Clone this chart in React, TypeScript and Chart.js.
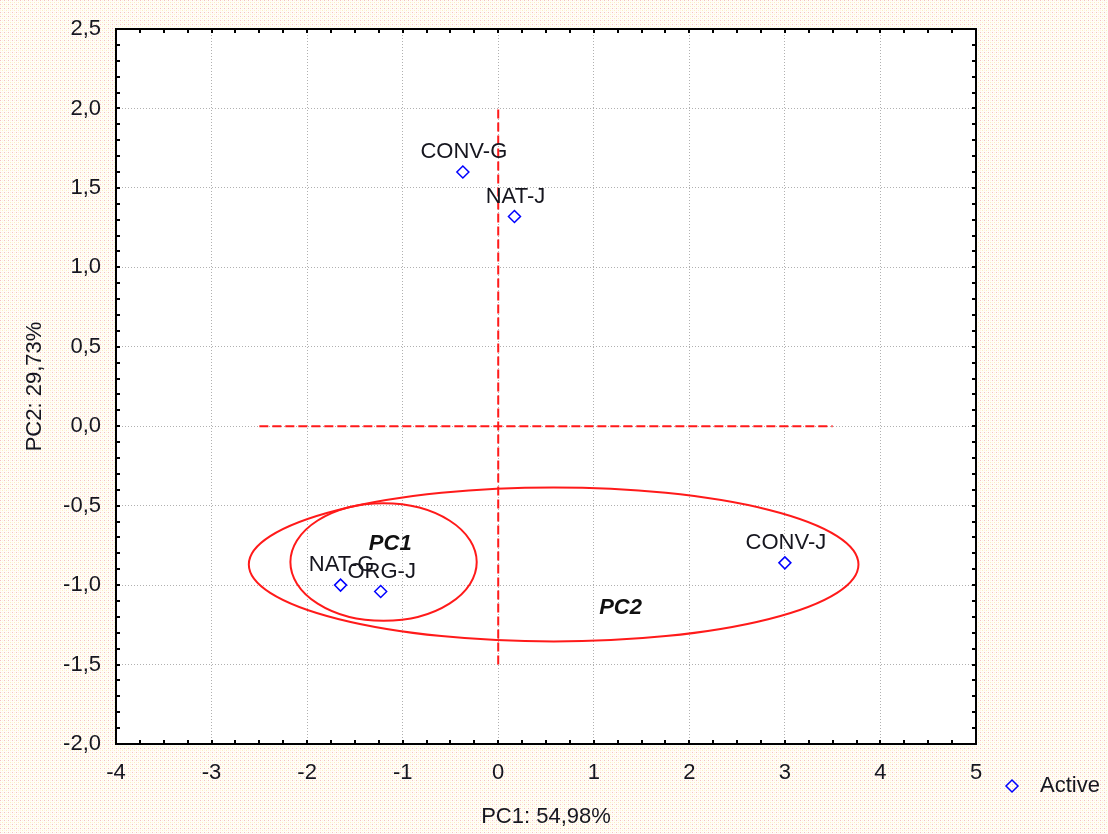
import React, { useEffect, useRef } from 'react';
import { Chart, registerables } from 'chart.js';

Chart.register(...registerables);

// ---- data ----
const pointLabels = ['CONV-G', 'NAT-J', 'NAT-G', 'ORG-J', 'CONV-J'];
const pc1Values = [-0.37, 0.17, -1.65, -1.23, 3.0];
const pc2Values = [1.6, 1.32, -1.0, -1.04, -0.86];

const xTickValues = [-4, -3, -2, -1, 0, 1, 2, 3, 4, 5];
const yTickValues = [-2.0, -1.5, -1.0, -0.5, 0.0, 0.5, 1.0, 1.5, 2.0, 2.5];

const crossHX = [-2.5, 3.5];
const crossHY = [0, 0];
const crossVX = [0, 0];
const crossVY = [-1.5, 2.0];

const ellipseNames = ['PC1', 'PC2'];
const ellipseCx = [-1.2, 0.58];
const ellipseCy = [-0.855, -0.87];
const ellipseRx = [0.975, 3.19];
const ellipseRy = [0.37, 0.485];
const ellipseLabelX = [-1.13, 1.28];
const ellipseLabelY = [-0.74, -1.145];

const xTitle = 'PC1: 54,98%';
const yTitle = 'PC2: 29,73%';
const seriesName = 'Active';

const FONT = '"Liberation Sans", Arial, sans-serif';
const FS = 22;
const RED = '#ff1a1a';
const BLUE = '#0000ff';
const TEXT = '#16161f';

const fmtY = (v: number) => v.toFixed(1).replace('.', ',');

function makePattern(ctx: CanvasRenderingContext2D) {
  const c = document.createElement('canvas');
  c.width = 4;
  c.height = 4;
  const g = c.getContext('2d')!;
  g.fillStyle = '#fffdf8';
  g.fillRect(0, 0, 4, 4);
  g.fillStyle = '#f4c0c4';
  g.fillRect(0, 0, 1, 1);
  g.fillStyle = '#fbefc0';
  g.fillRect(2, 2, 1, 1);
  g.fillStyle = '#fdf5e0';
  g.fillRect(2, 0, 1, 1);
  g.fillRect(0, 2, 1, 1);
  return ctx.createPattern(c, 'repeat');
}

const decorPlugin = {
  id: 'decor',
  beforeDraw(chart: any) {
    const { ctx, chartArea: a, width, height } = chart;
    ctx.save();
    const p = makePattern(ctx);
    ctx.fillStyle = p || '#fdf8ee';
    ctx.fillRect(0, 0, width, height);
    ctx.fillStyle = '#ffffff';
    ctx.fillRect(a.left, a.top, a.right - a.left, a.bottom - a.top);
    ctx.restore();
  },
  beforeDatasetsDraw(chart: any) {
    const { ctx } = chart;
    const xs = chart.scales.x;
    const ys = chart.scales.y;
    ctx.save();
    ctx.strokeStyle = RED;
    ctx.lineWidth = 2;
    for (let i = 0; i < ellipseNames.length; i++) {
      const cx = xs.getPixelForValue(ellipseCx[i]);
      const cy = ys.getPixelForValue(ellipseCy[i]);
      const rx = Math.abs(xs.getPixelForValue(ellipseCx[i] + ellipseRx[i]) - cx);
      const ry = Math.abs(ys.getPixelForValue(ellipseCy[i] + ellipseRy[i]) - cy);
      ctx.beginPath();
      ctx.ellipse(cx, cy, rx, ry, 0, 0, Math.PI * 2);
      ctx.stroke();
    }
    ctx.restore();
  },
  afterDatasetsDraw(chart: any) {
    const { ctx, chartArea: a } = chart;
    const xs = chart.scales.x;
    const ys = chart.scales.y;
    ctx.save();
    // ellipse labels
    ctx.font = `italic bold ${FS}px ${FONT}`;
    ctx.fillStyle = '#111111';
    ctx.textAlign = 'center';
    ctx.textBaseline = 'middle';
    for (let i = 0; i < ellipseNames.length; i++) {
      ctx.fillText(ellipseNames[i], xs.getPixelForValue(ellipseLabelX[i]), ys.getPixelForValue(ellipseLabelY[i]));
    }
    // point labels
    ctx.font = `${FS}px ${FONT}`;
    ctx.fillStyle = TEXT;
    for (let i = 0; i < pointLabels.length; i++) {
      const px = xs.getPixelForValue(pc1Values[i]);
      const py = ys.getPixelForValue(pc2Values[i]);
      ctx.fillText(pointLabels[i], px + 1, py - 20);
    }
    // frame
    ctx.strokeStyle = '#000000';
    ctx.lineWidth = 2;
    ctx.strokeRect(a.left, a.top, a.right - a.left, a.bottom - a.top);
    // tick marks (inward)
    ctx.lineWidth = 2;
    ctx.beginPath();
    const xMin = xTickValues[0];
    const xMax = xTickValues[xTickValues.length - 1];
    for (let k = 0; k <= (xMax - xMin) * 4; k++) {
      const v = xMin + k * 0.25;
      const px = Math.round(xs.getPixelForValue(v));
      ctx.moveTo(px, a.bottom);
      ctx.lineTo(px, a.bottom - 4);
      ctx.moveTo(px, a.top);
      ctx.lineTo(px, a.top + 4);
    }
    const yMin = yTickValues[0];
    const yMax = yTickValues[yTickValues.length - 1];
    for (let k = 0; k <= Math.round((yMax - yMin) * 10); k++) {
      const v = yMin + k * 0.1;
      const py = Math.round(ys.getPixelForValue(v));
      ctx.moveTo(a.left, py);
      ctx.lineTo(a.left + 4, py);
      ctx.moveTo(a.right, py);
      ctx.lineTo(a.right - 4, py);
    }
    ctx.stroke();
    // legend
    const lx = 1012;
    const ly = 786;
    ctx.strokeStyle = BLUE;
    ctx.lineWidth = 1.5;
    ctx.beginPath();
    ctx.moveTo(lx, ly - 6);
    ctx.lineTo(lx + 6, ly);
    ctx.lineTo(lx, ly + 6);
    ctx.lineTo(lx - 6, ly);
    ctx.closePath();
    ctx.stroke();
    ctx.font = `${FS}px ${FONT}`;
    ctx.fillStyle = TEXT;
    ctx.textAlign = 'left';
    ctx.textBaseline = 'middle';
    ctx.fillText(seriesName, 1040, ly);
    ctx.restore();
  },
};

export default function App() {
  const ref = useRef<HTMLCanvasElement | null>(null);

  useEffect(() => {
    if (!ref.current) return;
    const chart = new Chart(ref.current, {
      type: 'scatter',
      data: {
        datasets: [
          {
            label: seriesName,
            data: pc1Values.map((x, i) => ({ x, y: pc2Values[i] })),
            pointStyle: 'rectRot',
            pointRadius: 6,
            pointBorderColor: BLUE,
            pointBackgroundColor: '#ffffff',
            pointBorderWidth: 1.5,
            showLine: false,
            order: 0,
          },
          {
            label: 'h',
            data: crossHX.map((x, i) => ({ x, y: crossHY[i] })),
            showLine: true,
            borderColor: RED,
            borderWidth: 2,
            borderDash: [9, 4],
            pointRadius: 0,
            order: 1,
          },
          {
            label: 'v',
            data: crossVX.map((x, i) => ({ x, y: crossVY[i] })),
            showLine: true,
            borderColor: RED,
            borderWidth: 2,
            borderDash: [9, 4],
            pointRadius: 0,
            order: 1,
          },
        ],
      },
      options: {
        responsive: false,
        animation: false,
        layout: { padding: { left: 0, top: 29, right: 132, bottom: 0 } },
        plugins: {
          legend: { display: false },
          tooltip: { enabled: false },
        },
        scales: {
          x: {
            type: 'linear',
            min: xTickValues[0],
            max: xTickValues[xTickValues.length - 1],
            afterBuildTicks: (s: any) => {
              s.ticks = xTickValues.map((v) => ({ value: v }));
            },
            afterFit: (s: any) => {
              s.height = 90;
            },
            ticks: {
              font: { family: FONT, size: FS },
              color: TEXT,
              padding: 16,
              maxRotation: 0,
              callback: (v: any) => String(v),
            },
            grid: { color: '#b0b0b0', lineWidth: 1, drawTicks: false },
            border: { display: false, dash: [1, 2] },
            title: {
              display: true,
              text: xTitle,
              font: { family: FONT, size: FS },
              color: TEXT,
              padding: { top: 0, bottom: 4 },
            },
          },
          y: {
            type: 'linear',
            min: yTickValues[0],
            max: yTickValues[yTickValues.length - 1],
            afterBuildTicks: (s: any) => {
              s.ticks = yTickValues.map((v) => ({ value: v }));
            },
            afterFit: (s: any) => {
              s.width = 116;
            },
            ticks: {
              font: { family: FONT, size: FS },
              color: TEXT,
              padding: 15,
              callback: (v: any) => fmtY(Number(v)),
            },
            grid: { color: '#b0b0b0', lineWidth: 1, drawTicks: false },
            border: { display: false, dash: [1, 2] },
            title: {
              display: true,
              text: yTitle,
              font: { family: FONT, size: FS },
              color: TEXT,
              padding: { top: 22, bottom: 0 },
            },
          },
        },
      },
      plugins: [decorPlugin],
    });
    return () => chart.destroy();
  }, []);

  return (
    <div style={{ position: 'absolute', left: 0, top: 0, width: 1108, height: 834 }}>
      <canvas ref={ref} width={1108} height={834} style={{ display: 'block' }} />
    </div>
  );
}
